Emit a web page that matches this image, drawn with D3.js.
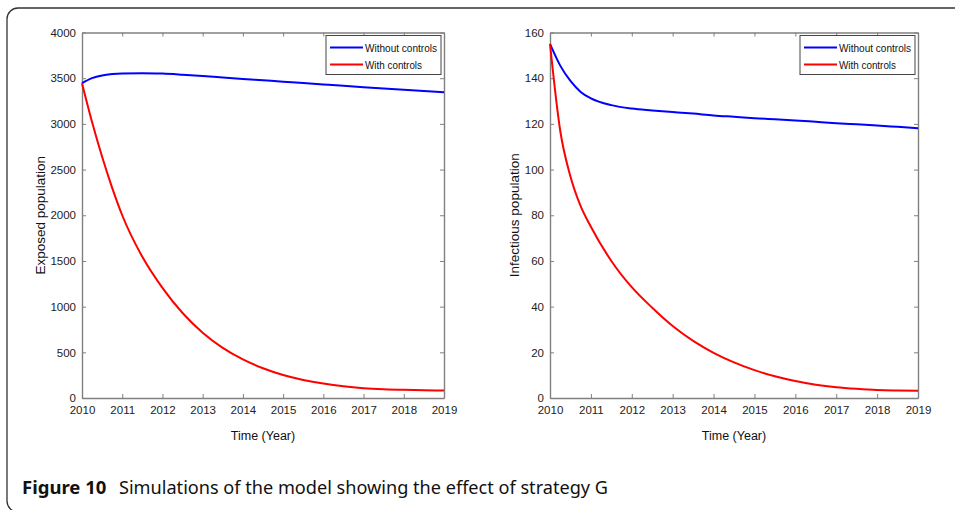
<!DOCTYPE html>
<html>
<head>
<meta charset="utf-8">
<script src="https://cdn.jsdelivr.net/npm/d3@7"></script>
<style>
  body { margin: 0; background: #fff; }
  svg { display: block; }
</style>
</head>
<body>
<script>
// time points (years)
const years = [2010, 2010.25, 2010.5, 2010.75, 2011, 2011.5, 2012, 2012.5, 2013, 2013.5, 2014, 2014.5,
  2015, 2015.5, 2016, 2016.5, 2017, 2017.5, 2018, 2018.5, 2019];

// exposed population
const exposedWithout = [3445, 3500, 3530, 3545, 3552, 3555, 3550, 3538, 3524, 3508, 3492, 3477,
  3462, 3446, 3431, 3416, 3402, 3388, 3374, 3360, 3345];
const exposedWith = [3445, 3020, 2640, 2300, 2000, 1545, 1205, 930, 715, 548, 422, 326,
  252, 198, 158, 128, 108, 96, 89, 85, 82];

// infectious population
const infectWithout = [155, 145.5, 138.8, 134, 131.2, 128.2, 126.7, 125.9, 125.2, 124.5, 123.7, 123.1,
  122.5, 122, 121.5, 120.9, 120.3, 119.8, 119.3, 118.7, 118.1];
const infectWith = [155, 117, 97, 84, 75, 60, 48.5, 39.5, 31.5, 25, 19.8, 15.6,
  12.2, 9.5, 7.4, 5.8, 4.7, 4, 3.5, 3.3, 3.2];

const xTicks = [2010, 2011, 2012, 2013, 2014, 2015, 2016, 2017, 2018, 2019];
const exposedTicks = [0, 500, 1000, 1500, 2000, 2500, 3000, 3500, 4000];
const infectTicks = [0, 20, 40, 60, 80, 100, 120, 140, 160];
const legendLabels = ['Without controls', 'With controls'];
const colors = ['#0000ff', '#ff0000'];

const W = 955, H = 510;
const font = '"Liberation Sans", Arial, sans-serif';
const svg = d3.select('body').append('svg').attr('width', W).attr('height', H);

// outer frame
svg.append('rect')
  .attr('x', 7).attr('y', 8).attr('width', 970).attr('height', 504)
  .attr('rx', 11)
  .attr('fill', 'none').attr('stroke', '#333').attr('stroke-width', 1.3);

function panel(opts) {
  const g = svg.append('g');
  const x = d3.scaleLinear().domain([2010, 2019]).range([opts.left, opts.right]);
  const y = d3.scaleLinear().domain(opts.yDomain).range([398, 32.5]);
  const axisColor = '#808080';

  const xb = g.append('g').attr('transform', `translate(0,398)`)
    .call(d3.axisBottom(x).tickValues(xTicks).tickFormat(d3.format('d')).tickSizeInner(-4).tickSizeOuter(0).tickPadding(8));
  const xt = g.append('g').attr('transform', `translate(0,32.5)`)
    .call(d3.axisTop(x).tickValues(xTicks).tickFormat('').tickSizeInner(-4).tickSizeOuter(0));
  const yl = g.append('g').attr('transform', `translate(${opts.left},0)`)
    .call(d3.axisLeft(y).tickValues(opts.yTicks).tickFormat(d3.format('d')).tickSizeInner(-4).tickSizeOuter(0).tickPadding(6));
  const yr = g.append('g').attr('transform', `translate(${opts.right},0)`)
    .call(d3.axisRight(y).tickValues(opts.yTicks).tickFormat('').tickSizeInner(-4).tickSizeOuter(0));
  [xb, xt, yl, yr].forEach(a => {
    a.attr('font-family', font).attr('font-size', 11.5);
    a.select('.domain').attr('stroke', axisColor).attr('stroke-width', 1.4);
    a.selectAll('.tick line').attr('stroke', axisColor);
    a.selectAll('.tick text').attr('fill', '#222');
  });

  const line = d3.line().x((d, i) => x(years[i])).y(d => y(d)).curve(d3.curveMonotoneX);
  opts.series.forEach((s, k) => {
    g.append('path').datum(s)
      .attr('d', line)
      .attr('fill', 'none').attr('stroke', colors[k]).attr('stroke-width', 2);
  });

  // axis labels
  g.append('text')
    .attr('x', (opts.left + opts.right) / 2).attr('y', 440)
    .attr('text-anchor', 'middle')
    .attr('font-family', font).attr('font-size', 12.5)
    .attr('fill', '#111')
    .text('Time (Year)');
  g.append('text')
    .attr('transform', `translate(${opts.labelX},${(32.5 + 398) / 2}) rotate(-90)`)
    .attr('text-anchor', 'middle')
    .attr('font-family', font).attr('font-size', 13.5)
    .attr('fill', '#111')
    .text(opts.ylabel);

  // legend
  const lx = opts.right - 118, ly = 35.5;
  const lg = g.append('g').attr('transform', `translate(${lx},${ly})`);
  lg.append('rect').attr('width', 115).attr('height', 39)
    .attr('fill', '#fff').attr('stroke', '#444').attr('stroke-width', 1);
  legendLabels.forEach((t, k) => {
    const yy = 12 + k * 17;
    lg.append('line').attr('x1', 4).attr('x2', 37).attr('y1', yy).attr('y2', yy)
      .attr('stroke', colors[k]).attr('stroke-width', 2);
    lg.append('text').attr('x', 39).attr('y', yy + 4)
      .attr('font-family', font).attr('font-size', 11.5)
      .attr('textLength', k === 0 ? 72 : 57).attr('lengthAdjust', 'spacingAndGlyphs')
      .attr('fill', '#111')
      .text(t);
  });
}

panel({
  left: 82, right: 444, yDomain: [0, 4000], yTicks: exposedTicks, labelX: 45,
  ylabel: 'Exposed population', series: [exposedWithout, exposedWith]
});
panel({
  left: 550, right: 918, yDomain: [0, 160], yTicks: infectTicks, labelX: 519,
  ylabel: 'Infectious population', series: [infectWithout, infectWith]
});

// caption
const cap = svg.append('text')
  .attr('x', 22).attr('y', 494)
  .attr('font-family', '"Noto Sans", "Open Sans", sans-serif').attr('font-size', 18.5)
  .attr('fill', '#111');
cap.append('tspan').attr('font-weight', 'bold').text('Figure 10');
cap.append('tspan').attr('x', 119).attr('font-size', 18)
  .attr('textLength', 489).attr('lengthAdjust', 'spacingAndGlyphs')
  .text('Simulations of the model showing the effect of strategy G');
</script>
</body>
</html>
